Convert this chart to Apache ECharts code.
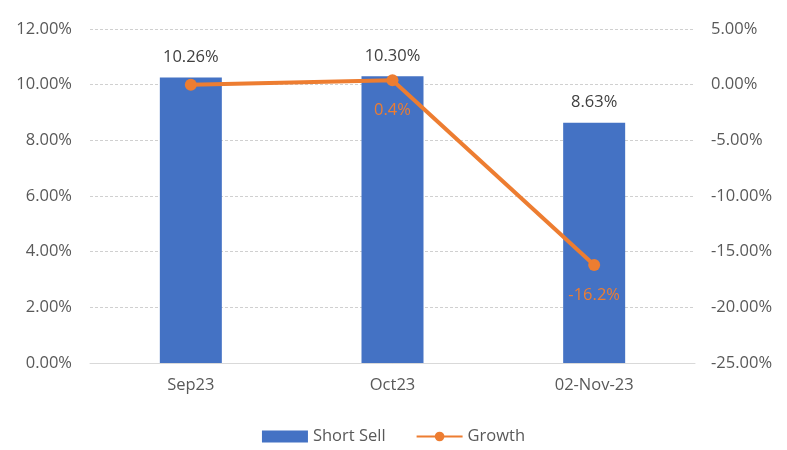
<!DOCTYPE html>
<html><head><meta charset="utf-8">
<script src="https://cdn.jsdelivr.net/npm/echarts@6/dist/echarts.min.js"></script>
<style>html,body{margin:0;padding:0;background:#fff}#c{width:787px;height:450px}</style>
</head><body><div id="c"></div>
<script>
const categories = ['Sep23', 'Oct23', '02-Nov-23'];
const shortSell = [10.26, 10.30, 8.63];
const growth = [0, 0.4, -16.2];
const growthLabels = ['', '0.4%', '-16.2%'];
const leftTicks = {min: 0, max: 12, interval: 2};
const rightTicks = {min: -25, max: 5, interval: 5};

const font = '"Open Sans", "Noto Sans", sans-serif';
const fs = 16.5;
const chart = echarts.init(document.getElementById('c'));
chart.setOption({
  backgroundColor: '#fff',
  textStyle: {fontFamily: font},
  grid: {left: 90, right: 92, top: 29, bottom: 87},
  legend: {
    bottom: 0, left: 'center', itemWidth: 46, itemHeight: 12, itemGap: 30,
    textStyle: {fontSize: fs, color: '#595959', fontFamily: font},
    data: [{name: 'Short Sell', icon: 'rect'}, {name: 'Growth'}]
  },
  xAxis: {
    type: 'category', data: categories,
    axisLine: {lineStyle: {color: '#d9d9d9', width: 1}},
    axisTick: {show: false},
    axisLabel: {color: '#595959', fontSize: fs, margin: 14, fontFamily: font}
  },
  yAxis: [{
    type: 'value', min: leftTicks.min, max: leftTicks.max, interval: leftTicks.interval,
    axisLabel: {color: '#595959', fontSize: fs, margin: 18, fontFamily: font, formatter: v => v.toFixed(2) + '%'},
    splitLine: {lineStyle: {color: '#d0d0d0', type: [3, 2]}},
    axisLine: {show: false}, axisTick: {show: false}
  }, {
    type: 'value', min: rightTicks.min, max: rightTicks.max, interval: rightTicks.interval,
    axisLabel: {color: '#595959', fontSize: fs, margin: 16, fontFamily: font, formatter: v => v.toFixed(2) + '%'},
    splitLine: {show: false}, axisLine: {show: false}, axisTick: {show: false}
  }],
  series: [{
    name: 'Short Sell', type: 'bar', data: shortSell, barWidth: 62,
    itemStyle: {color: '#4472C4'},
    label: {show: true, position: 'top', distance: 12, color: '#404040', fontSize: fs, fontFamily: font,
      formatter: p => p.value.toFixed(2) + '%'}
  }, {
    name: 'Growth', type: 'line', yAxisIndex: 1, data: growth,
    symbol: 'circle', symbolSize: 12,
    lineStyle: {color: '#ED7D31', width: 4},
    itemStyle: {color: '#ED7D31'},
    label: {show: true, position: 'bottom', distance: 16, color: '#ED7D31', fontSize: fs, fontFamily: font,
      formatter: p => growthLabels[p.dataIndex]}
  }]
});
</script></body></html>
